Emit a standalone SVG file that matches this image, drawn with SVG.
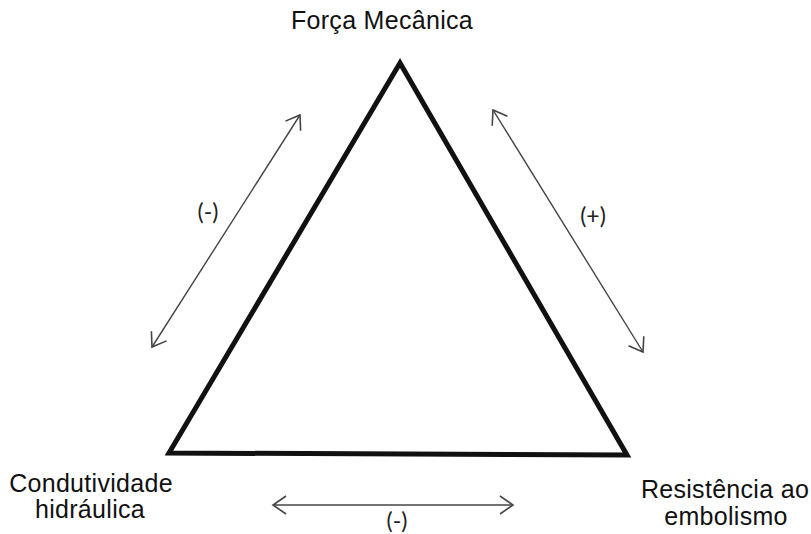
<svg xmlns="http://www.w3.org/2000/svg" width="811" height="534" viewBox="0 0 811 534">
<style>
.lbl{font-family:"Liberation Sans",Arial,sans-serif;font-size:25px;letter-spacing:0.3px;fill:#111;text-anchor:middle}
.sign{font-family:Lato,"Liberation Sans",sans-serif;font-size:23px;fill:#222;text-anchor:middle}
.arr{stroke:#444;stroke-width:1.4;fill:none;marker-start:url(#ah);marker-end:url(#ah)}
</style>
<defs>
<marker id="ah" viewBox="0 0 20 20" refX="14" refY="10" markerWidth="20" markerHeight="20" markerUnits="userSpaceOnUse" orient="auto-start-reverse">
<path d="M1,1 L14,10 L1,19" fill="none" stroke="#444" stroke-width="1.6"/>
</marker>
</defs>
<g id="triangle">
<polygon points="400,63 169,453 627,455" fill="none" stroke="#111" stroke-width="5" stroke-linejoin="miter"/>
</g>
<g id="forca"><text class="lbl" x="382" y="29">Força Mecânica</text></g>
<g id="condutividade"><text class="lbl" x="91" y="492">Condutividade</text><text class="lbl" x="90" y="518">hidráulica</text></g>
<g id="resistencia"><text class="lbl" x="725" y="498">Resistência ao</text><text class="lbl" x="726" y="525">embolismo</text></g>
<g id="connectors">
<line class="arr" x1="152" y1="347" x2="300" y2="115"/>
<line class="arr" x1="493" y1="110" x2="643" y2="352"/>
<line class="arr" x1="273" y1="505" x2="513" y2="505"/>
<text class="sign" x="208" y="220">(-)</text>
<text class="sign" x="593" y="224">(+)</text>
<text class="sign" x="397" y="529">(-)</text>
</g>
</svg>
